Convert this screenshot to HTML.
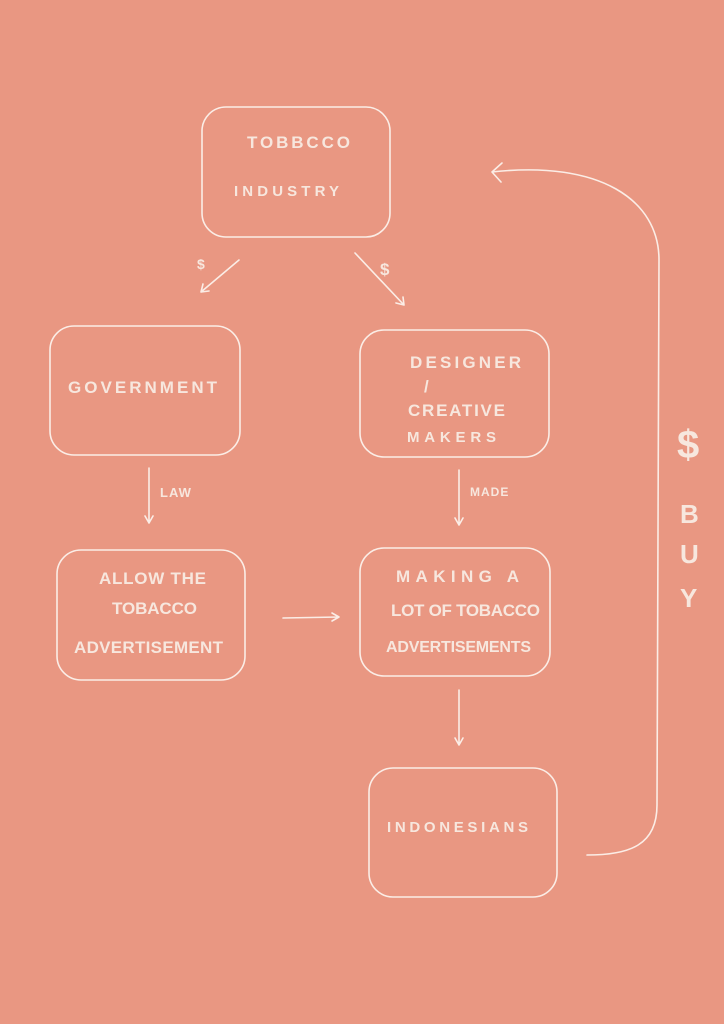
<!DOCTYPE html>
<html><head><meta charset="utf-8"><style>
html,body{margin:0;padding:0;background:#E99782;}
svg{display:block}
text{font-family:"Liberation Sans",sans-serif;fill:#F7E7DE;letter-spacing:1px}
</style></head><body>
<svg width="724" height="1024" viewBox="0 0 724 1024" xmlns="http://www.w3.org/2000/svg">
<rect width="724" height="1024" fill="#E99782"/>
<g fill="none" stroke="#FBEDE6" stroke-width="1.6" stroke-linecap="round" stroke-linejoin="round">
<rect x="202" y="107" width="188" height="130" rx="24"/>
<rect x="50" y="326" width="190" height="129" rx="24"/>
<rect x="360" y="330" width="189" height="127" rx="24"/>
<rect x="57" y="550" width="188" height="130" rx="24"/>
<rect x="360" y="548" width="190" height="128" rx="24"/>
<rect x="369" y="768" width="188" height="129" rx="24"/>
<path d="M239 260 L201 292 M201 292 l2 -8 M201 292 l8 -1"/>
<path d="M355 253 L404 305 M404 305 l-8 -2 M404 305 l-1 -8"/>
<path d="M149 468 L149 523 M149 523 l-4 -7 M149 523 l4 -7"/>
<path d="M459 470 L459 525 M459 525 l-4 -7 M459 525 l4 -7"/>
<path d="M283 618 L339 617 M339 617 l-7 -4 M339 617 l-7 4"/>
<path d="M459 690 L459 745 M459 745 l-4 -7 M459 745 l4 -7"/>
<path d="M587 855 C630 855 657 845 657 805 L659 260 C659 200 600 160 492 172 M492 172 l10 -9 M492 172 l9 10"/>
</g>
<g font-size="17" font-weight="bold">
<text x="247" y="148" textLength="104">TOBBCCO</text>
<text x="234" y="196" font-size="15" textLength="106">INDUSTRY</text>
<text x="68" y="393" textLength="150">GOVERNMENT</text>
<text x="410" y="368" textLength="112">DESIGNER</text>
<text x="424" y="392">/</text>
<text x="408" y="416" textLength="98">CREATIVE</text>
<text x="407" y="442" font-size="15" textLength="90">MAKERS</text>
<text x="99" y="584" textLength="108">ALLOW THE</text>
<text x="112" y="614" textLength="86">TOBACCO</text>
<text x="74" y="653" textLength="150">ADVERTISEMENT</text>
<text x="396" y="582" textLength="124">MAKING A</text>
<text x="391" y="616" textLength="150">LOT OF TOBACCO</text>
<text x="386" y="652" font-size="16" textLength="146">ADVERTISEMENTS</text>
<text x="387" y="832" font-size="15" textLength="142">INDONESIANS</text>
<text x="160" y="497" font-size="13">LAW</text>
<text x="470" y="496" font-size="12">MADE</text>
<text x="197" y="269" font-size="14">$</text>
<text x="380" y="275" font-size="17">$</text>
<text x="677" y="458" font-size="40">$</text>
<text x="680" y="523" font-size="26">B</text>
<text x="680" y="563" font-size="26">U</text>
<text x="680" y="607" font-size="26">Y</text>
</g>
</svg>
</body></html>
